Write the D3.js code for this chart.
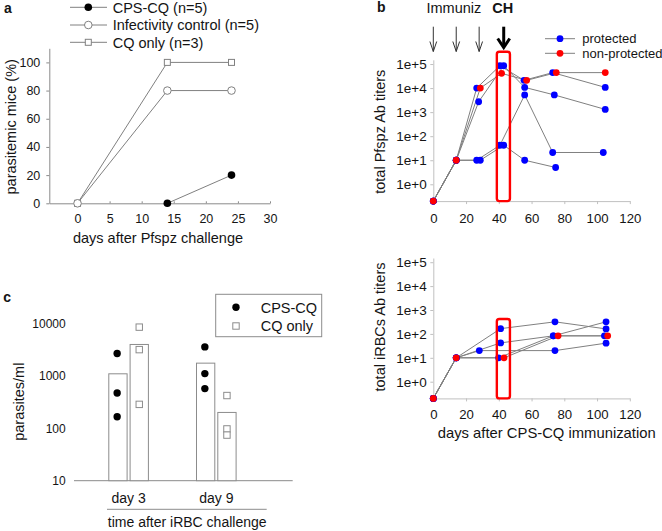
<!DOCTYPE html>
<html><head><meta charset="utf-8">
<script src="https://cdn.jsdelivr.net/npm/d3@7"></script>
<style>
body{margin:0;background:#fff}
svg{display:block;background:#fff}
text{font-family:"Liberation Sans",Arial,Helvetica,sans-serif;fill:#141414}
</style>
</head><body>
<svg id="chart" width="662" height="531"></svg>
<script>
// ================= DATA =================
// Panel a: % parasitemic mice after Pfspz challenge
const aLegendNames = ["CPS-CQ (n=5)", "Infectivity control (n=5)", "CQ only (n=3)"];
const aCPSDays = [14, 24];
const aCPSValues = [0, 20];
const aCtrlDays = [0, 14, 24];
const aCtrlValues = [0, 80, 80];
const aCQDays = [0, 14, 24];
const aCQValues = [0, 100, 100];
const aXTicks = [0, 5, 10, 15, 20, 25, 30];
const aYTicks = [0, 20, 40, 60, 80, 100];

// Panel b (top): total Pfspz Ab titers per mouse
const bStatusNames = ["protected", "non-protected"];
const bPfStatus = ["non-protected", "protected", "protected", "protected", "protected"];
const bPfDays = [
  [0, 14, 28.7, 41.7, 57, 75.1, 105],
  [0, 14, 26.5, 40.7, 55.4, 72.9, 105],
  [0, 14, 27.7, 43, 55.8, 73.9, 105],
  [0, 14, 26.5, 40.7, 55.8, 72.9, 103.8],
  [0, 14, 28.7, 43, 55.8, 74.7]
];
const bPfTiters = [
  [0.2, 10, 10000, 41000, 21000, 44000, 44000],
  [0.2, 10, 10000, 85000, 21000, 44000, 10700],
  [0.2, 10, 2700, 85000, 10700, 5200, 1300],
  [0.2, 10, 10, 42, 5200, 21, 21],
  [0.2, 10, 10, 42, 10, 5]
];
// Panel b (bottom): total iRBCs Ab titers per mouse
const bRbcStatus = ["protected", "protected", "protected", "protected", "non-protected"];
const bRbcDays = [
  [0, 14, 28.1, 74.3, 105.5],
  [0, 14, 41.1, 74.3, 105.5],
  [0, 14, 41.1, 73.3, 105.5],
  [0, 14, 39.9, 73.3, 104.5],
  [0, 14, 43.2, 76.2, 106.5]
];
const bRbcTiters = [
  [0.2, 10, 20, 20, 41],
  [0.2, 10, 166, 320, 162],
  [0.2, 10, 42, 83, 320],
  [0.2, 10, 10, 83, 83],
  [0.2, 10, 10, 83, 83]
];
const bXTicks = [0, 20, 40, 60, 80, 100, 120];
const bYTicks = [1, 10, 100, 1000, 10000, 100000];
const bImmunizDays = [0, 14, 28];
const bChallengeDay = 43;
const bHighlightDays = [38.8, 46.8];

// Panel c: parasites/ml after iRBC challenge
const cGroups = ["day 3", "day 9"];
const cSeries = ["CPS-CQ", "CQ only"];
const cBarCPS = [1090, 1740];
const cBarCQ = [3950, 200];
const cDotsCPS = [[2650, 470, 165], [3550, 1100, 570]];
const cDotsCQ = [[8450, 3150, 285], [420, 97, 74]];
const cYTicks = [10, 100, 1000, 10000];

// ================= DRAWING =================
const svg = d3.select("#chart");
const GRAY = "#808080";
const AXA = "#8a8a8a";
const AXB = "#c0c0c0";
const BLUE = "#0000ff";
const RED = "#ff0000";

function styleAxis(g, color, fs) {
  g.attr("font-size", null).attr("font-family", null);
  g.select(".domain").attr("stroke", color);
  g.selectAll(".tick line").attr("stroke", color);
  g.selectAll(".tick text").attr("fill", "#141414").style("font-size", fs + "px");
}

// ---------- Panel a ----------
const gA = svg.append("g");
const xA = d3.scaleLinear().domain([-4.4, 30]).range([49.3, 270]);
const yA = d3.scaleLinear().domain([0, 110]).range([203.3, 48.3]);

const yAxA = gA.append("g").attr("transform", `translate(${xA(-4.4)},0)`)
  .call(d3.axisLeft(yA).tickValues(aYTicks).tickSizeInner(3).tickSizeOuter(0).tickPadding(6));
styleAxis(yAxA, AXA, 12.5);
const xAxA = gA.append("g").attr("transform", `translate(0,${yA(0)})`)
  .call(d3.axisBottom(xA).tickValues(aXTicks).tickSizeInner(-2).tickSizeOuter(0));
styleAxis(xAxA, AXA, 12.5);
xAxA.selectAll(".tick text").attr("y", 20).attr("dy", 0);

const lineA = d3.line().x(d => xA(d[0])).y(d => yA(d[1]));
const aCQ = d3.zip(aCQDays, aCQValues);
const aCtrl = d3.zip(aCtrlDays, aCtrlValues);
const aCPS = d3.zip(aCPSDays, aCPSValues);
[aCQ, aCtrl, aCPS].forEach(s => {
  gA.append("path").attr("d", lineA(s)).attr("fill", "none").attr("stroke", GRAY).attr("stroke-width", 1);
});
gA.selectAll(".sq").data(aCQ).join("rect")
  .attr("x", d => xA(d[0]) - 3).attr("y", d => yA(d[1]) - 3).attr("width", 6).attr("height", 6)
  .attr("fill", "#fff").attr("stroke", GRAY);
gA.selectAll(".oc").data(aCtrl).join("circle")
  .attr("cx", d => xA(d[0])).attr("cy", d => yA(d[1])).attr("r", 3.8)
  .attr("fill", "#fff").attr("stroke", GRAY);
gA.selectAll(".fc").data(aCPS).join("circle")
  .attr("cx", d => xA(d[0])).attr("cy", d => yA(d[1])).attr("r", 3.8)
  .attr("fill", "#000");

// legend a
const legAy = [7.3, 25, 42.3];
aLegendNames.forEach((name, i) => {
  const y = legAy[i];
  gA.append("line").attr("x1", 70).attr("x2", 107).attr("y1", y).attr("y2", y).attr("stroke", GRAY);
  if (i === 0) gA.append("circle").attr("cx", 88.3).attr("cy", y).attr("r", 3.8).attr("fill", "#000");
  if (i === 1) gA.append("circle").attr("cx", 88.3).attr("cy", y).attr("r", 3.8).attr("fill", "#fff").attr("stroke", GRAY);
  if (i === 2) gA.append("rect").attr("x", 85.3).attr("y", y - 3).attr("width", 6).attr("height", 6).attr("fill", "#fff").attr("stroke", GRAY);
  gA.append("text").attr("x", 112.7).attr("y", y + 5.3).style("font-size", "14.5px").text(name);
});
gA.append("text").attr("x", 4).attr("y", 12.7).style("font-size", "14px").style("font-weight", "bold").text("a");
gA.append("text").attr("text-anchor", "middle")
  .attr("transform", `translate(15.5,${(yA(0) + yA(110)) / 2 + 1}) rotate(-90)`)
  .style("font-size", "14.5px").text("parasitemic mice (%)");
gA.append("text").attr("x", 158).attr("y", 243.3).attr("text-anchor", "middle")
  .style("font-size", "14.5px").text("days after Pfspz challenge");

// ---------- Panel b ----------
const gB = svg.append("g");
const xB = d3.scaleLinear().domain([0, 120]).range([433.3, 629.8]);
const yBt = d3.scaleLog().domain([0.2, 1.5e5]).range([201.1, 59.8]);
const yBb = d3.scaleLog().domain([0.2, 1.5e5]).range([398.4, 258]);
const fmtE = d => "1e+" + Math.round(Math.log10(d));

function drawBPanel(yS, days, titers, status, xLabelY, boxTopOffset) {
  const g = gB.append("g");
  const yAx = g.append("g").attr("transform", `translate(${xB(0)},0)`)
    .call(d3.axisLeft(yS).tickValues(bYTicks).tickFormat(fmtE).tickSizeInner(3).tickSizeOuter(0).tickPadding(3.6));
  styleAxis(yAx, AXB, 13.5);
  const xAx = g.append("g").attr("transform", `translate(0,${yS.range()[0]})`)
    .call(d3.axisBottom(xB).tickValues(bXTicks).tickSizeInner(3).tickSizeOuter(0));
  styleAxis(xAx, AXB, 13.2);
  xAx.selectAll(".tick text").attr("y", xLabelY).attr("dy", 0);

  const line = d3.line().x(d => xB(d[0])).y(d => yS(d[1]));
  const mice = days.map((ds, i) => ({ pts: d3.zip(ds, titers[i]), status: status[i] }));
  mice.forEach(m => {
    g.append("path").attr("d", line(m.pts)).attr("fill", "none").attr("stroke", GRAY).attr("stroke-width", 1);
  });
  const order = mice.filter(m => m.status === "protected").concat(mice.filter(m => m.status !== "protected"));
  order.forEach(m => {
    g.selectAll(null).data(m.pts).join("circle")
      .attr("cx", d => xB(d[0])).attr("cy", d => yS(d[1])).attr("r", 3.4)
      .attr("fill", m.status === "protected" ? BLUE : RED);
  });
  // red highlight box
  const x0 = xB(bHighlightDays[0]), x1 = xB(bHighlightDays[1]);
  const yTop = yS.range()[1] + boxTopOffset, yBot = yS.range()[0];
  g.append("rect").attr("x", x0).attr("y", yTop).attr("width", x1 - x0).attr("height", yBot - yTop)
    .attr("rx", 2.5).attr("fill", "none").attr("stroke", RED).attr("stroke-width", 2.4);
}
drawBPanel(yBt, bPfDays, bPfTiters, bPfStatus, 21.6, -8.1);
drawBPanel(yBb, bRbcDays, bRbcTiters, bRbcStatus, 20.9, 61);

// arrows
bImmunizDays.forEach(d => {
  const x = xB(d);
  gB.append("line").attr("x1", x).attr("x2", x).attr("y1", 26.7).attr("y2", 51.5).attr("stroke", "#333").attr("stroke-width", 1);
  gB.append("polyline").attr("points", `${x - 3.4},41.5 ${x},51.5 ${x + 3.4},41.5`)
    .attr("fill", "none").attr("stroke", "#333").attr("stroke-width", 1);
});
{
  const x = xB(bChallengeDay);
  gB.append("line").attr("x1", x).attr("x2", x).attr("y1", 26.7).attr("y2", 47).attr("stroke", "#000").attr("stroke-width", 3);
  gB.append("polyline").attr("points", `${x - 6},38.5 ${x},47.5 ${x + 6},38.5`)
    .attr("fill", "none").attr("stroke", "#000").attr("stroke-width", 3).attr("stroke-linejoin", "miter");
}
gB.append("text").attr("x", 426.5).attr("y", 12.7).style("font-size", "14.5px").text("Immuniz");
gB.append("text").attr("x", 513.3).attr("y", 12.7).attr("text-anchor", "end")
  .style("font-size", "14.5px").style("font-weight", "bold").text("CH");
gB.append("text").attr("x", 377).attr("y", 11.7).style("font-size", "14px").style("font-weight", "bold").text("b");

// legend b
const legBy = [38.7, 53.3];
bStatusNames.forEach((name, i) => {
  const y = legBy[i];
  gB.append("line").attr("x1", 545).attr("x2", 575).attr("y1", y).attr("y2", y).attr("stroke", GRAY);
  gB.append("circle").attr("cx", 560).attr("cy", y).attr("r", 3.4).attr("fill", i === 0 ? BLUE : RED);
  gB.append("text").attr("x", 582.3).attr("y", y + 4.6).style("font-size", "13px").text(name);
});
gB.append("text").attr("text-anchor", "middle")
  .attr("transform", `translate(385,131.7) rotate(-90)`)
  .style("font-size", "14.5px").text("total Pfspz Ab titers");
gB.append("text").attr("text-anchor", "middle")
  .attr("transform", `translate(385,327) rotate(-90)`)
  .style("font-size", "14.5px").text("total iRBCs Ab titers");
gB.append("text").attr("x", 546.7).attr("y", 437.5).attr("text-anchor", "middle")
  .style("font-size", "14.8px").text("days after CPS-CQ immunization");

// ---------- Panel c ----------
const gC = svg.append("g");
const yC = d3.scaleLog().domain([10, 10000]).range([480.7, 323.3]);
const xC = d3.scaleBand().domain(cGroups).range([84.75, 260.15]).paddingInner(0).paddingOuter(0);
const xCi = d3.scaleBand().domain(cSeries).range([0, 39.6]).paddingInner(0.1408).paddingOuter(0);
const barLeft = (grp, ser) => xC(grp) + xC.bandwidth() / 2 - 19.8 + xCi(ser);

const yAxC = gC.append("g").attr("transform", `translate(74,0)`)
  .call(d3.axisLeft(yC).tickValues(cYTicks).tickFormat(d3.format("d")).tickSize(0).tickPadding(8.3));
styleAxis(yAxC, "none", 12);
yAxC.select(".domain").remove();
gC.append("line").attr("x1", 74).attr("x2", 292.7).attr("y1", yC(10)).attr("y2", yC(10)).attr("stroke", AXA);

const barData = [];
cGroups.forEach((grp, i) => {
  barData.push({ grp, ser: cSeries[0], v: cBarCPS[i] });
  barData.push({ grp, ser: cSeries[1], v: cBarCQ[i] });
});
gC.selectAll(".bar").data(barData).join("rect")
  .attr("x", d => barLeft(d.grp, d.ser)).attr("y", d => yC(d.v))
  .attr("width", xCi.bandwidth()).attr("height", d => yC(10) - yC(d.v))
  .attr("fill", "#fff").attr("stroke", "#8c8c8c").attr("stroke-width", 1);

cGroups.forEach((grp, i) => {
  const cxCPS = barLeft(grp, cSeries[0]) + xCi.bandwidth() / 2 - 0.8;
  const cxCQ = barLeft(grp, cSeries[1]) + xCi.bandwidth() / 2;
  cDotsCPS[i].forEach(v => {
    gC.append("circle").attr("cx", cxCPS).attr("cy", yC(v)).attr("r", 3.7).attr("fill", "#000");
  });
  cDotsCQ[i].forEach(v => {
    gC.append("rect").attr("x", cxCQ - 3.2).attr("y", yC(v) - 3.2).attr("width", 6.4).attr("height", 6.4)
      .attr("fill", "#fff").attr("stroke", "#8c8c8c");
  });
  gC.append("text").attr("x", xC(grp) + xC.bandwidth() / 2).attr("y", 503.3).attr("text-anchor", "middle")
    .style("font-size", "14px").text(grp);
});
gC.append("line").attr("x1", 107).attr("x2", 266.7).attr("y1", 509.3).attr("y2", 509.3).attr("stroke", "#8c8c8c");
gC.append("text").attr("x", 187.2).attr("y", 526.7).attr("text-anchor", "middle")
  .style("font-size", "14px").text("time after iRBC challenge");
gC.append("text").attr("text-anchor", "middle")
  .attr("transform", `translate(23.7,401.7) rotate(-90)`)
  .style("font-size", "14.5px").text("parasites/ml");
gC.append("text").attr("x", 3.3).attr("y", 301.7).style("font-size", "14px").style("font-weight", "bold").text("c");

// legend c
gC.append("rect").attr("x", 215.7).attr("y", 294.3).attr("width", 106).attr("height", 42.4)
  .attr("fill", "#fff").attr("stroke", "#8c8c8c");
gC.append("circle").attr("cx", 236).attr("cy", 307.3).attr("r", 3.7).attr("fill", "#000");
gC.append("rect").attr("x", 232.8).attr("y", 322.8).attr("width", 6.4).attr("height", 6.4).attr("fill", "#fff").attr("stroke", "#8c8c8c");
gC.append("text").attr("x", 260.7).attr("y", 313.3).style("font-size", "14.5px").text(cSeries[0]);
gC.append("text").attr("x", 260.7).attr("y", 330.5).style("font-size", "14.5px").text(cSeries[1]);
</script>
</body></html>
